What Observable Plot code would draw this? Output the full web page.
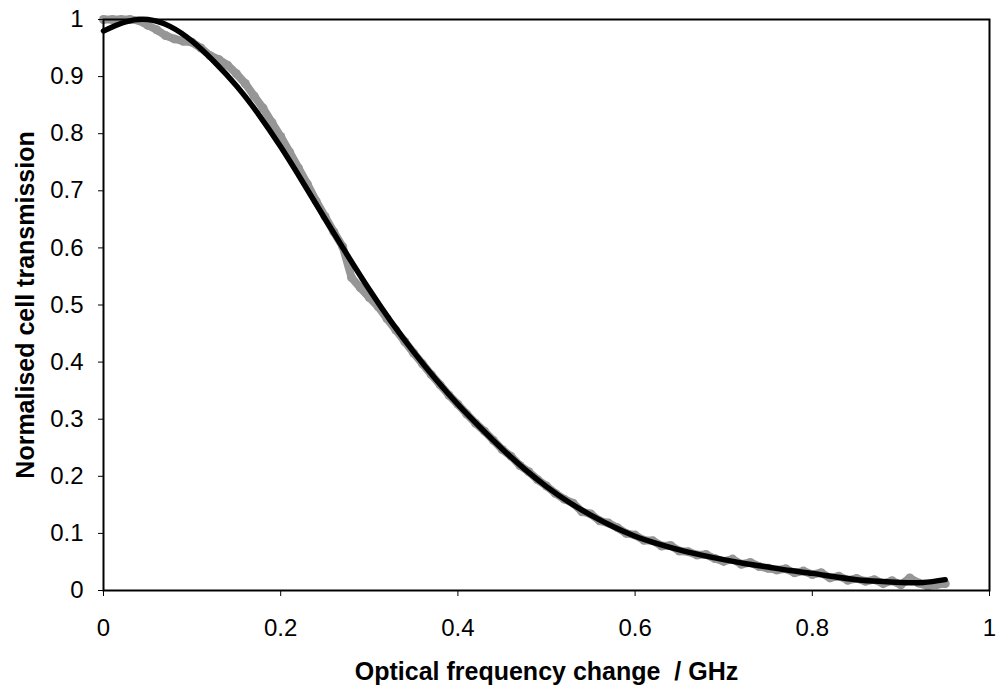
<!DOCTYPE html>
<html>
<head>
<meta charset="utf-8">
<script src="https://cdn.jsdelivr.net/npm/d3@7"></script>
<script src="https://cdn.jsdelivr.net/npm/@observablehq/plot@0.6"></script>
<style>
  html, body { margin: 0; padding: 0; background: #fff; }
  #chart svg { display: block; }
</style>
</head>
<body>
<div id="chart"></div>
<script>
// Measured data (grey points)
const dataX = [0.00,0.01,0.02,0.03,0.04,0.05,0.06,0.07,0.08,0.09,
  0.10,0.11,0.12,0.13,0.14,0.15,0.16,0.17,0.18,0.19,
  0.20,0.21,0.22,0.23,0.24,0.25,0.26,0.27,0.28,0.29,
  0.30,0.31,0.32,0.33,0.34,0.35,0.36,0.37,0.38,0.39,
  0.40,0.41,0.42,0.43,0.44,0.45,0.46,0.47,0.48,0.49,
  0.50,0.51,0.52,0.53,0.54,0.55,0.56,0.57,0.58,0.59,
  0.60,0.61,0.62,0.63,0.64,0.65,0.66,0.67,0.68,0.69,
  0.70,0.71,0.72,0.73,0.74,0.75,0.76,0.77,0.78,0.79,
  0.80,0.81,0.82,0.83,0.84,0.85,0.86,0.87,0.88,0.89,
  0.90,0.91,0.92,0.93,0.94,0.95];
const dataY = [1.000,1.000,1.000,1.000,0.998,0.990,0.982,0.972,0.966,0.962,
  0.960,0.950,0.937,0.930,0.920,0.905,0.888,0.866,0.845,0.820,
  0.795,0.768,0.740,0.712,0.682,0.655,0.628,0.602,0.548,0.530,
  0.513,0.497,0.476,0.456,0.436,0.416,0.397,0.378,0.360,0.342,
  0.326,0.309,0.293,0.279,0.263,0.247,0.235,0.219,0.208,0.194,
  0.183,0.170,0.160,0.153,0.138,0.134,0.122,0.118,0.110,0.100,
  0.097,0.088,0.087,0.078,0.079,0.069,0.068,0.062,0.063,0.056,
  0.051,0.055,0.046,0.049,0.042,0.039,0.036,0.038,0.031,0.034,
  0.028,0.031,0.022,0.025,0.018,0.021,0.016,0.019,0.012,0.017,
  0.010,0.022,0.013,0.008,0.010,0.012];

// Fitted curve (black line)
const fitX = [0,0.025,0.05,0.075,0.1,0.125,0.15,0.175,0.2,0.225,0.25,0.275,0.3,0.325,0.35,0.375,0.4,
  0.425,0.45,0.475,0.5,0.525,0.55,0.575,0.6,0.625,0.65,0.675,0.7,0.725,0.75,0.775,0.8,0.825,0.85,0.875,0.9,0.925,0.95];
const fitY = [0.980,0.996,1.000,0.988,0.962,0.926,0.884,0.834,0.777,0.715,0.651,0.588,0.527,0.470,0.418,0.370,0.326,
  0.286,0.248,0.213,0.182,0.155,0.132,0.112,0.095,0.082,0.071,0.062,0.054,0.047,0.041,0.035,0.030,0.024,0.019,0.016,0.014,0.014,0.019];

const xTicks = [0,0.2,0.4,0.6,0.8,1];
const yTicks = [0,0.1,0.2,0.3,0.4,0.5,0.6,0.7,0.8,0.9,1];
const xTitle = "Optical frequency change  / GHz";
const yTitle = "Normalised cell transmission";

const data = dataX.map((x, i) => ({x, y: dataY[i]}));
const fit = fitX.map((x, i) => ({x, y: fitY[i]}));
const fmt = d => String(+d.toFixed(1));

const chart = Plot.plot({
  width: 997,
  height: 685,
  marginLeft: 103,
  marginRight: 8,
  marginTop: 19,
  marginBottom: 95,
  style: {fontFamily: "'Liberation Sans', Arial, sans-serif", fontSize: "24px", background: "#fff", color: "#000"},
  x: {domain: [0, 1]},
  y: {domain: [0, 1]},
  marks: [
    Plot.line(data, {x: "x", y: "y", stroke: "#969696", strokeWidth: 8, curve: "linear"}),
    Plot.dot(data, {x: "x", y: "y", r: 4.5, fill: "#969696", stroke: "none"}),
    Plot.line(fit, {x: "x", y: "y", stroke: "#000", strokeWidth: 5.5, curve: "natural"}),
    Plot.frame({stroke: "#000", strokeWidth: 2}),
    Plot.axisX({ticks: xTicks, tickFormat: fmt, tickSize: 6, tickPadding: 22, label: null, fontSize: 24}),
    Plot.axisY({ticks: yTicks, tickFormat: fmt, tickSize: 5, tickPadding: 15, label: null, fontSize: 24}),
    Plot.text([xTitle], {frameAnchor: "bottom", dy: 81, text: d => d, fontWeight: "bold", fontSize: 25, lineAnchor: "middle", textAnchor: "middle"}),
    Plot.text([yTitle], {frameAnchor: "left", dx: -78, rotate: -90, text: d => d, fontWeight: "bold", fontSize: 25, lineAnchor: "middle", textAnchor: "middle"})
  ]
});
document.getElementById("chart").appendChild(chart);
</script>
</body>
</html>
